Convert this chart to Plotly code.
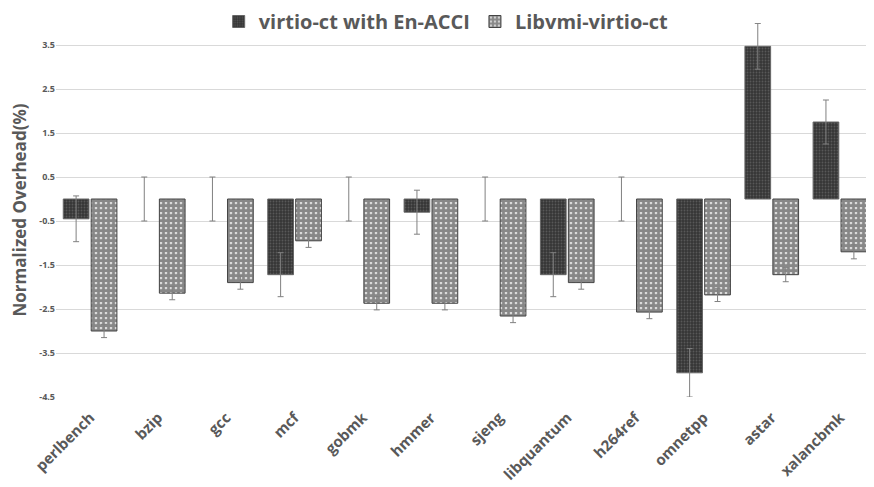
import plotly.graph_objects as go

categories = ["perlbench", "bzip", "gcc", "mcf", "gobmk", "hmmer", "sjeng",
              "libquantum", "h264ref", "omnetpp", "astar", "xalancbmk"]
enacci = [-0.45, 0.0, 0.0, -1.72, 0.0, -0.3, 0.0, -1.72, 0.0, -3.95, 3.47, 1.75]
enacci_err = [0.52, 0.5, 0.5, 0.5, 0.5, 0.5, 0.5, 0.5, 0.5, 0.55, 0.52, 0.5]
libvmi = [-3.0, -2.14, -1.9, -0.95, -2.37, -2.37, -2.66, -1.9, -2.57, -2.18, -1.72, -1.2]
libvmi_err = [0.15, 0.15, 0.15, 0.15, 0.15, 0.15, 0.15, 0.15, 0.15, 0.15, 0.16, 0.16]
tick_vals = [3.5, 2.5, 1.5, 0.5, -0.5, -1.5, -2.5, -3.5, -4.5]
tick_text = ["3.5", "2.5", "1.5", "0.5", "-0.5", "-1.5", "-2.5", "-3.5", "-4.5"]

gray = "#595959"
err_style = dict(type="data", thickness=1, width=3, color="#808080")

enacci_line_w = [0 if v == 0 else 1 for v in enacci]

fig = go.Figure()
fig.add_trace(go.Bar(
    name="virtio-ct with En-ACCI", x=categories, y=enacci,
    error_y=dict(array=enacci_err, **err_style),
    marker=dict(color="#3a3a3a",
                line=dict(color="#666666", width=enacci_line_w),
                pattern=dict(shape=".", fgcolor="#7a7a7a", bgcolor="#363636",
                             size=3, solidity=0.3)),
))
fig.add_trace(go.Bar(
    name="Libvmi-virtio-ct", x=categories, y=libvmi,
    error_y=dict(array=libvmi_err, **err_style),
    marker=dict(color="white",
                line=dict(color="#444444", width=1),
                pattern=dict(shape=".", fgcolor="#111111", bgcolor="#ffffff",
                             size=5, solidity=0.8, fillmode="overlay")),
))

fig.update_layout(
    width=874, height=487,
    margin=dict(l=48, r=8, t=15, b=98, autoexpand=False),
    paper_bgcolor="white", plot_bgcolor="white",
    barmode="group", bargap=0.18, bargroupgap=0.08,
    font=dict(family="Open Sans", color=gray),
    legend=dict(orientation="h", x=0.477, xanchor="center", y=1.004, yanchor="middle",
                font=dict(size=20, color=gray, family="Open Sans", weight="bold"),
                bgcolor="rgba(0,0,0,0)", itemwidth=30),
    showlegend=True,
)
fig.update_xaxes(
    tickangle=-45, showgrid=False, showline=False, ticks="",
    ticklabelstandoff=8,
    tickfont=dict(size=15, color=gray, family="Open Sans", weight="bold"),
)
fig.update_yaxes(
    range=[-4.5, 4.0], tickvals=tick_vals, ticktext=tick_text,
    showgrid=True, gridcolor="#d9d9d9", gridwidth=1, zeroline=False,
    showline=False, ticks="",
    tickfont=dict(size=9, color=gray, family="Open Sans", weight="bold"),
    title=dict(text="Normalized Overhead(%)", standoff=8,
               font=dict(size=17, color=gray, family="Open Sans", weight="bold")),
)

fig.write_html("out.html")
